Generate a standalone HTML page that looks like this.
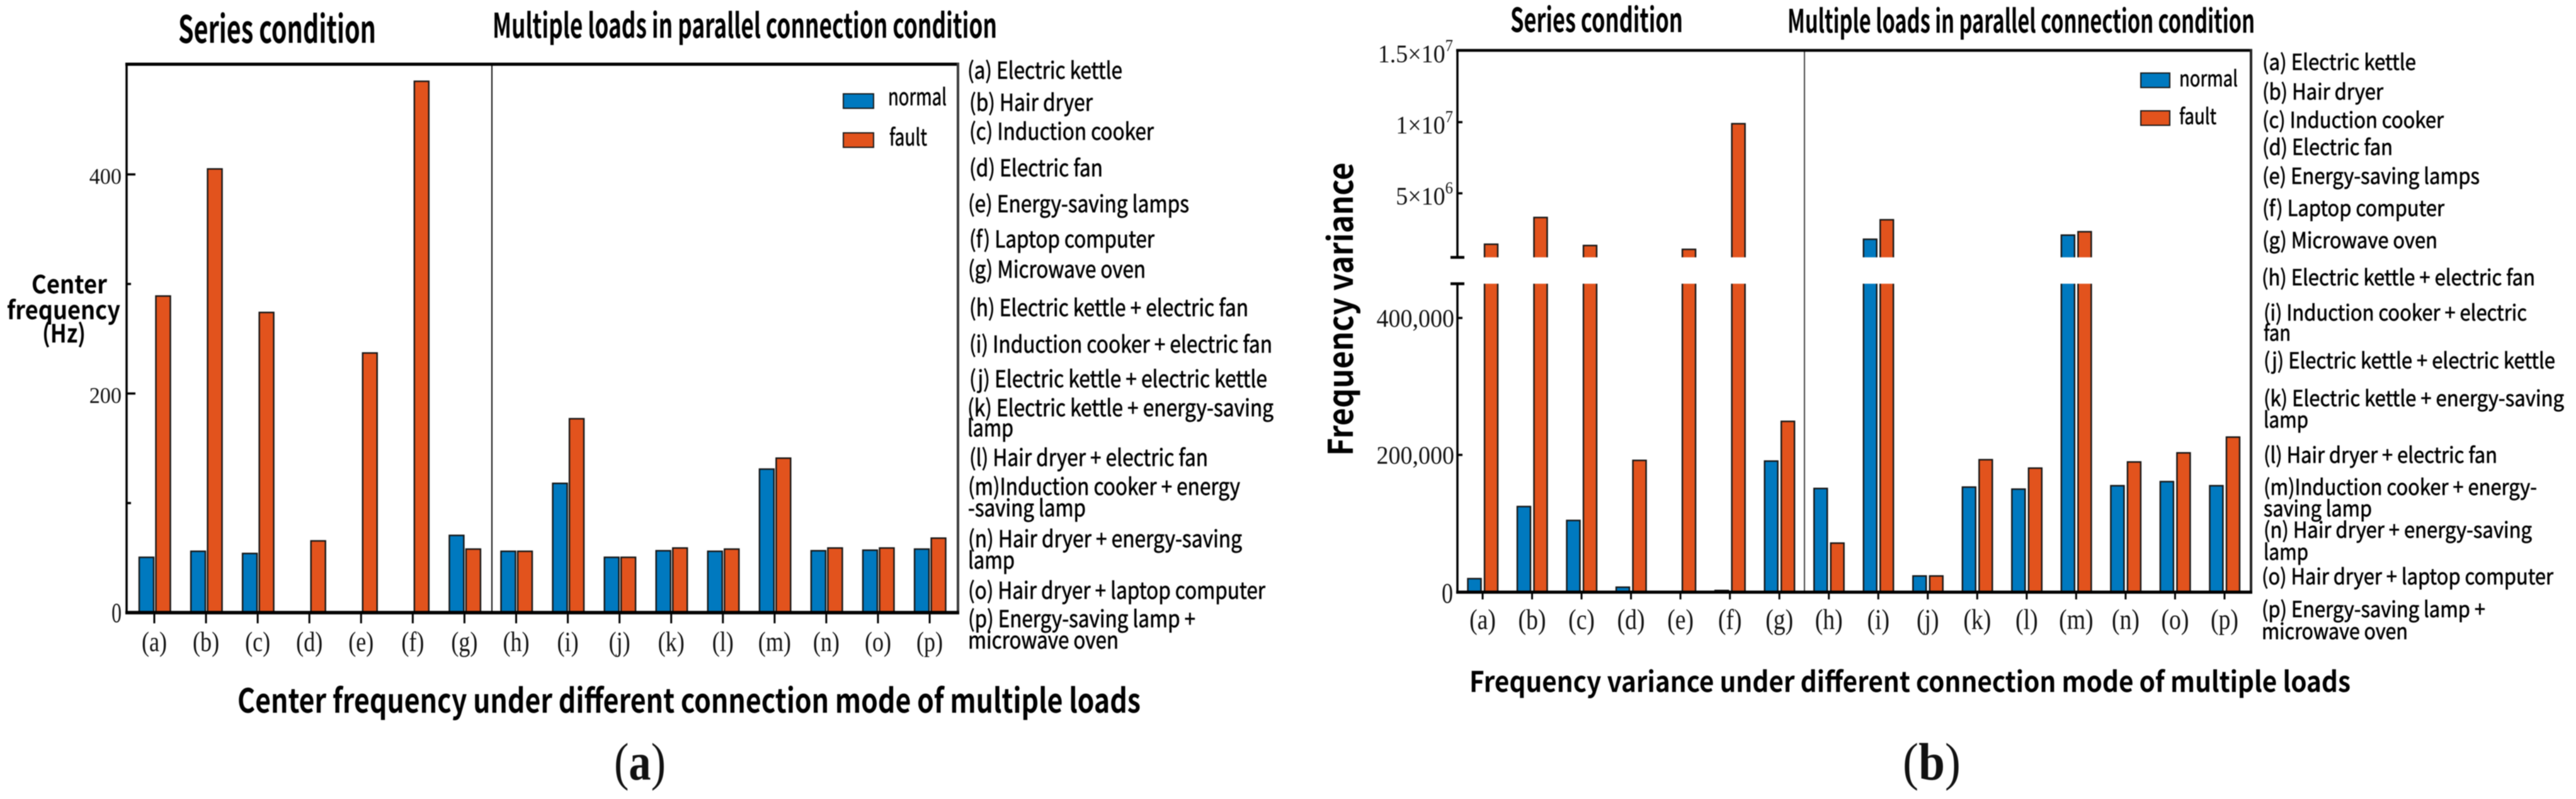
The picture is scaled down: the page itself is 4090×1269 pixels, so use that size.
<!DOCTYPE html>
<html lang="en">
<head>
<meta charset="utf-8">
<title>Center frequency and frequency variance under different connection modes</title>
<style>
html,body{margin:0;padding:0;background:#fff;}
body{width:4090px;height:1269px;overflow:hidden;}
svg{display:block;filter:blur(0.7px);}
text{font-family:"Noto Sans CJK SC","Liberation Sans",sans-serif;fill:#000;}
.t{font-weight:700;}
.l{font-size:36.5px;font-weight:400;stroke:#000;stroke-width:.7px;}
.l2{font-size:34.5px;font-weight:400;stroke:#000;stroke-width:.7px;}
.serif,.serif tspan{font-family:"Liberation Serif",serif;fill:#111;}
</style>
</head>
<body>
<svg id="figure" xmlns="http://www.w3.org/2000/svg" width="4090" height="1269" viewBox="0 0 4090 1269">
  <rect x="0" y="0" width="4090" height="1269" fill="#fff"/>
  <g id="marks"></g>

  <!-- Panel (a) text -->
  <text class="t" x="283" y="68" font-size="60" textLength="314" lengthAdjust="spacingAndGlyphs">Series condition</text>
  <text class="t" x="782" y="60" font-size="54" textLength="801" lengthAdjust="spacingAndGlyphs">Multiple loads in parallel connection condition</text>
  <g>
    <text class="t" x="50" y="466" font-size="40" textLength="120" lengthAdjust="spacingAndGlyphs">Center</text>
    <text class="t" x="11" y="507" font-size="40" textLength="180" lengthAdjust="spacingAndGlyphs">frequency</text>
    <text class="t" x="67" y="544" font-size="40" textLength="69" lengthAdjust="spacingAndGlyphs">(Hz)</text>
  </g>
  <text class="t" x="377" y="1132" font-size="53" textLength="1434" lengthAdjust="spacingAndGlyphs">Center frequency under different connection mode of multiple loads</text>
  <text class="serif" x="975" y="1238" font-size="84" textLength="82" lengthAdjust="spacingAndGlyphs">(<tspan font-weight="700">a</tspan>)</text>

  <g>
    <rect x="1339" y="149" width="48" height="23" fill="#0079bf" stroke="#1a1a1a" stroke-width="2"/>
    <text class="l" x="1410" y="167" textLength="93" lengthAdjust="spacingAndGlyphs">normal</text>
    <rect x="1339" y="211" width="48" height="23" fill="#e2531d" stroke="#1a1a1a" stroke-width="2"/>
    <text class="l" x="1412" y="231" textLength="60" lengthAdjust="spacingAndGlyphs">fault</text>
  </g>

  <g>
    <text class="l" x="1536" y="125" textLength="246" lengthAdjust="spacingAndGlyphs">(a) Electric kettle</text>
    <text class="l" x="1539" y="176" textLength="196" lengthAdjust="spacingAndGlyphs">(b) Hair dryer</text>
    <text class="l" x="1539" y="222" textLength="293" lengthAdjust="spacingAndGlyphs">(c) Induction cooker</text>
    <text class="l" x="1539" y="280" textLength="212" lengthAdjust="spacingAndGlyphs">(d) Electric fan</text>
    <text class="l" x="1537" y="337" textLength="351" lengthAdjust="spacingAndGlyphs">(e) Energy-saving lamps</text>
    <text class="l" x="1539" y="393" textLength="294" lengthAdjust="spacingAndGlyphs">(f) Laptop computer</text>
    <text class="l" x="1537" y="441" textLength="282" lengthAdjust="spacingAndGlyphs">(g) Microwave oven</text>
    <text class="l" x="1539" y="502" textLength="443" lengthAdjust="spacingAndGlyphs">(h) Electric kettle + electric fan</text>
    <text class="l" x="1539" y="560" textLength="481" lengthAdjust="spacingAndGlyphs">(i) Induction cooker + electric fan</text>
    <text class="l" x="1539" y="615" textLength="473" lengthAdjust="spacingAndGlyphs">(j) Electric kettle + electric kettle</text>
    <text class="l" x="1536" y="661" textLength="486" lengthAdjust="spacingAndGlyphs">(k) Electric kettle + energy-saving</text>
    <text class="l" x="1536" y="693" textLength="73" lengthAdjust="spacingAndGlyphs">lamp</text>
    <text class="l" x="1539" y="740" textLength="379" lengthAdjust="spacingAndGlyphs">(l) Hair dryer + electric fan</text>
    <text class="l" x="1537" y="786" textLength="432" lengthAdjust="spacingAndGlyphs">(m)Induction cooker + energy</text>
    <text class="l" x="1537" y="820" textLength="187" lengthAdjust="spacingAndGlyphs">-saving lamp</text>
    <text class="l" x="1537" y="869" textLength="435" lengthAdjust="spacingAndGlyphs">(n) Hair dryer + energy-saving</text>
    <text class="l" x="1537" y="903" textLength="74" lengthAdjust="spacingAndGlyphs">lamp</text>
    <text class="l" x="1537" y="951" textLength="472" lengthAdjust="spacingAndGlyphs">(o) Hair dryer + laptop computer</text>
    <text class="l" x="1537" y="996" textLength="361" lengthAdjust="spacingAndGlyphs">(p) Energy-saving lamp +</text>
    <text class="l" x="1537" y="1030" textLength="239" lengthAdjust="spacingAndGlyphs">microwave oven</text>
  </g>

  <!-- Panel (b) text -->
  <text class="t" x="2398" y="51" font-size="53" textLength="274" lengthAdjust="spacingAndGlyphs">Series condition</text>
  <text class="t" x="2838" y="52" font-size="51" textLength="742" lengthAdjust="spacingAndGlyphs">Multiple loads in parallel connection condition</text>
  <text class="t" transform="translate(2148,724) rotate(-90)" font-size="54" textLength="466" lengthAdjust="spacingAndGlyphs">Frequency variance</text>
  <text class="t" x="2333" y="1099" font-size="45" textLength="1399" lengthAdjust="spacingAndGlyphs">Frequency variance under different connection mode of multiple loads</text>
  <text class="serif" x="3021" y="1238" font-size="84" textLength="92" lengthAdjust="spacingAndGlyphs">(<tspan font-weight="700">b</tspan>)</text>

  <g>
    <rect x="3399" y="116" width="46" height="23" fill="#0079bf" stroke="#1a1a1a" stroke-width="2"/>
    <text class="l2" x="3460" y="137" textLength="93" lengthAdjust="spacingAndGlyphs">normal</text>
    <rect x="3399" y="176" width="46" height="23" fill="#e2531d" stroke="#1a1a1a" stroke-width="2"/>
    <text class="l2" x="3460" y="197" textLength="59" lengthAdjust="spacingAndGlyphs">fault</text>
  </g>

  <g>
    <text class="l2" x="3592" y="111" textLength="244" lengthAdjust="spacingAndGlyphs">(a) Electric kettle</text>
    <text class="l2" x="3592" y="158" textLength="192" lengthAdjust="spacingAndGlyphs">(b) Hair dryer</text>
    <text class="l2" x="3592" y="203" textLength="288" lengthAdjust="spacingAndGlyphs">(c) Induction cooker</text>
    <text class="l2" x="3592" y="246" textLength="207" lengthAdjust="spacingAndGlyphs">(d) Electric fan</text>
    <text class="l2" x="3592" y="292" textLength="345" lengthAdjust="spacingAndGlyphs">(e) Energy-saving lamps</text>
    <text class="l2" x="3592" y="343" textLength="289" lengthAdjust="spacingAndGlyphs">(f) Laptop computer</text>
    <text class="l2" x="3592" y="394" textLength="278" lengthAdjust="spacingAndGlyphs">(g) Microwave oven</text>
    <text class="l2" x="3591" y="453" textLength="434" lengthAdjust="spacingAndGlyphs">(h) Electric kettle + electric fan</text>
    <text class="l2" x="3594" y="509" textLength="418" lengthAdjust="spacingAndGlyphs">(i) Induction cooker + electric</text>
    <text class="l2" x="3594" y="541" textLength="43" lengthAdjust="spacingAndGlyphs">fan</text>
    <text class="l2" x="3594" y="585" textLength="463" lengthAdjust="spacingAndGlyphs">(j) Electric kettle + electric kettle</text>
    <text class="l2" x="3594" y="645" textLength="477" lengthAdjust="spacingAndGlyphs">(k) Electric kettle + energy-saving</text>
    <text class="l2" x="3594" y="679" textLength="71" lengthAdjust="spacingAndGlyphs">lamp</text>
    <text class="l2" x="3594" y="735" textLength="371" lengthAdjust="spacingAndGlyphs">(l) Hair dryer + electric fan</text>
    <text class="l2" x="3594" y="786" textLength="434" lengthAdjust="spacingAndGlyphs">(m)Induction cooker + energy-</text>
    <text class="l2" x="3594" y="820" textLength="172" lengthAdjust="spacingAndGlyphs">saving lamp</text>
    <text class="l2" x="3594" y="854" textLength="426" lengthAdjust="spacingAndGlyphs">(n) Hair dryer + energy-saving</text>
    <text class="l2" x="3594" y="889" textLength="71" lengthAdjust="spacingAndGlyphs">lamp</text>
    <text class="l2" x="3591" y="928" textLength="463" lengthAdjust="spacingAndGlyphs">(o) Hair dryer + laptop computer</text>
    <text class="l2" x="3591" y="980" textLength="355" lengthAdjust="spacingAndGlyphs">(p) Energy-saving lamp +</text>
    <text class="l2" x="3591" y="1015" textLength="232" lengthAdjust="spacingAndGlyphs">microwave oven</text>
  </g>
</svg>

<script>
const categories = ["(a)","(b)","(c)","(d)","(e)","(f)","(g)","(h)","(i)","(j)","(k)","(l)","(m)","(n)","(o)","(p)"];

const centerNormal = [50.5,56,54,0,0,0,70.5,56,118,50.5,56.5,56,131,56.5,57,58];
const centerFault = [289,405,274,65.5,237,485,58,56,177,50.5,59,58,141,59,59,68];
const centerMajorTicks = [0,200,400];
const centerMinorTicks = [100,300];
const centerTickLabels = ["0","200","400"];

const varianceNormal = [19300,124600,104300,6800,0,2000,191000,151000,1770000,23200,153000,150000,2060000,155000,161000,155000];
const varianceFault = [1420000,3300000,1330000,192000,1060000,9890000,249000,71200,3140000,23200,193000,180700,2300000,189700,203000,226000];
const varianceTicks = [0,200000,400000,5000000,10000000,15000000];
const varianceTickBases = ["0","200,000","400,000","5×10","1×10","1.5×10"];
const varianceTickExponents = ["","","","6","7","7"];

const NS = "http://www.w3.org/2000/svg";
const marks = document.getElementById("marks");

function make(tag, attrs, parent) {
  const el = document.createElementNS(NS, tag);
  for (const k in attrs) el.setAttribute(k, attrs[k]);
  (parent || marks).appendChild(el);
  return el;
}

/* Axis functions */
function xA(i) { return 245 + i * 82.07; }
function yA(v) { return 973 - v * 1.74; }
function xB(i) { return 2354 + i * 78.53; }
function yB(v) {
  if (v <= 450000) return 940 - v * 217.5 / 200000;
  if (v >= 500000) return 307 - (v - 5000000) * 113 / 5000000;
  return 451 + (v - 450000) * (408.7 - 451) / 50000;
}

function drawBars(values, xf, yf, offset, width, fill, seriesName) {
  values.forEach(function (v, i) {
    const y = yf(v);
    const bar = make("rect", {
      x: xf(i) + offset, y: y, width: width, height: Math.max(0, yf(0) - y),
      fill: fill, stroke: "#161616", "stroke-width": 2.4
    });
    
    
  });
}

function line(x1, y1, x2, y2, w, color, name) {
  const el = make("line", { x1: x1, y1: y1, x2: x2, y2: y2, stroke: color, "stroke-width": w });
  
  
  return el;
}

function serifLabel(str, x, y, size, sx, anchor, name) {
  const t = make("text", {
    "class": "serif", transform: "translate(" + x + "," + y + ") scale(" + sx + ",1)",
    "font-size": size, "text-anchor": anchor
  });
  t.textContent = str;
  
  
  return t;
}

/* Panel (a) */
drawBars(centerNormal, xA, yA, -24, 23, "#0079bf", "center-normal");
drawBars(centerFault, xA, yA, 2.5, 23, "#e2531d", "center-fault");
line(781, 102, 781, 972, 2, "#111", "panel-a-divider");
line(199, 102, 1523, 102, 5, "#000", "panel-a-top-spine");
line(201, 100, 201, 975, 3.5, "#000", "panel-a-left-spine");
line(1521, 100, 1521, 975, 4, "#3a3a3a", "panel-a-right-spine");
line(199, 973, 1523, 973, 5.5, "#000", "panel-a-x-axis");

centerMajorTicks.forEach(function (v, i) {
  if (v !== 0) line(201, yA(v), 215, yA(v), 3.5, "#000", "panel-a-y-tick-" + v);
  serifLabel(centerTickLabels[i], 193, yA(v) + 15, v === 0 ? 44 : 36, v === 0 ? 0.72 : 0.95, "end", "panel-a-y-label-" + v);
});
centerMinorTicks.forEach(function (v) {
  line(201, yA(v), 208, yA(v), 3.5, "#000", "panel-a-y-minor-tick-" + v);
});
categories.forEach(function (c, i) {
  line(xA(i), 973, xA(i), 990, 3, "#000", "panel-a-x-tick-" + i);
  serifLabel(c, xA(i), 1034, 44, 0.82, "middle", "panel-a-x-label-" + i);
});

/* Panel (b) */
drawBars(varianceNormal, xB, yB, -23.5, 21, "#0079bf", "variance-normal");
drawBars(varianceFault, xB, yB, 3, 21, "#e2531d", "variance-fault");

const breakBand = make("rect", { x: 2318, y: yB(500000), width: 1253, height: yB(450000) - yB(500000), fill: "#fff" });



line(2865, 80, 2865, 940, 2, "#444", "panel-b-divider");
line(2312, 80, 3576, 80, 4.5, "#000", "panel-b-top-spine");
line(2314, 78, 2314, yB(500000), 3.5, "#000", "panel-b-left-spine-upper");
line(2314, yB(450000), 2314, 942, 3.5, "#000", "panel-b-left-spine-lower");
line(2303, yB(500000), 2325, yB(500000), 4.5, "#000", "y-break-cap-upper");
line(2303, yB(450000), 2325, yB(450000), 4.5, "#000", "y-break-cap-lower");
line(3574, 78, 3574, 942, 4, "#222", "panel-b-right-spine");
line(2312, 940.5, 3576, 940.5, 5, "#000", "panel-b-x-axis");

varianceTicks.forEach(function (v, i) {
  const exp = varianceTickExponents[i];
  if (v !== 0 && v !== 15000000) line(2314, yB(v), 2322, yB(v), 3.5, "#000", "panel-b-y-tick-" + v);
  const off = v === 0 ? 17.6 : (exp ? 18 : 14);
  const t = serifLabel(varianceTickBases[i], v === 0 ? 2307 : (exp ? 2307 : 2309), yB(v) + off, v === 0 ? 45 : 40, v === 0 ? 0.8 : 0.95, "end", "panel-b-y-label-" + v);
  if (exp) {
    const sup = make("tspan", { "font-size": 26, dy: -18 }, t);
    sup.textContent = exp;
    
    
  }
});
categories.forEach(function (c, i) {
  line(xB(i), 940, xB(i), 952, 3, "#000", "panel-b-x-tick-" + i);
  serifLabel(c, xB(i), 999, 46, 0.82, "middle", "panel-b-x-label-" + i);
});
</script>
</body>
</html>
